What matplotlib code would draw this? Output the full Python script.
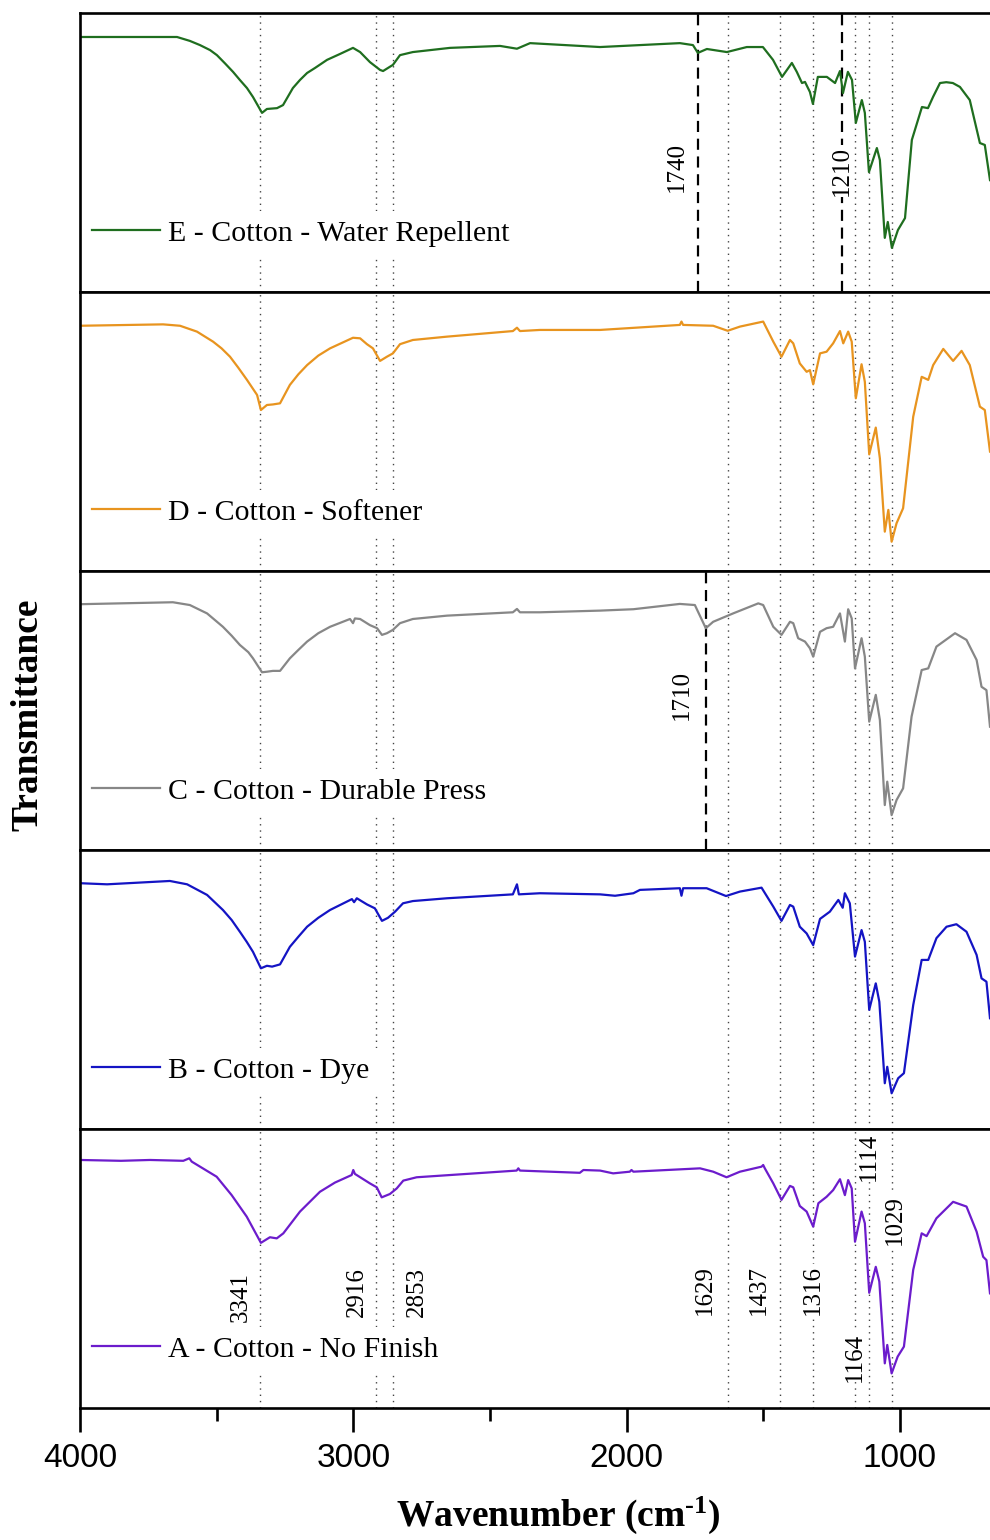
import numpy as np
import matplotlib
matplotlib.use("Agg")
import matplotlib.pyplot as plt
from matplotlib.ticker import MultipleLocator

plt.rcParams['font.family'] = ['Liberation Serif', 'DejaVu Serif']
plt.rcParams['mathtext.fontset'] = 'custom'
plt.rcParams['mathtext.rm'] = 'Liberation Serif:bold'
plt.rcParams['mathtext.it'] = 'Liberation Serif:bold'
plt.rcParams['mathtext.bf'] = 'Liberation Serif:bold'

# ---- spectra (wavenumber cm-1, relative transmittance in panel units)
wn_E = [4000, 3645, 3598, 3561, 3524, 3499, 3469, 3440, 3415, 3389, 3367, 3334, 3316, 3279, 3257, 3221, 3195,
        3169, 3140, 3096, 3049, 3001, 2975, 2939, 2902, 2891, 2855, 2829, 2782, 2646, 2463, 2401, 2353, 2097,
        1805, 1757, 1739, 1706, 1633, 1560, 1501, 1464, 1431, 1395, 1377, 1358, 1347, 1329, 1318, 1300, 1267,
        1237, 1219, 1208, 1190, 1175, 1161, 1139, 1128, 1113, 1084, 1073, 1055, 1044, 1029, 1007, 981, 956,
        919, 897, 878, 853, 830, 806, 780, 744, 707, 689, 670]
tr_E = [0.914, 0.914, 0.900, 0.885, 0.867, 0.849, 0.819, 0.789, 0.760, 0.731, 0.699, 0.642, 0.656, 0.659, 0.670,
        0.731, 0.760, 0.785, 0.803, 0.832, 0.853, 0.875, 0.860, 0.824, 0.796, 0.792, 0.814, 0.849, 0.860, 0.875,
        0.882, 0.872, 0.892, 0.878, 0.892, 0.885, 0.857, 0.871, 0.860, 0.878, 0.878, 0.832, 0.771, 0.821, 0.789,
        0.749, 0.753, 0.717, 0.674, 0.771, 0.771, 0.749, 0.792, 0.713, 0.789, 0.760, 0.606, 0.688, 0.642, 0.430,
        0.516, 0.473, 0.194, 0.251, 0.158, 0.222, 0.265, 0.545, 0.663, 0.659, 0.700, 0.749, 0.752, 0.749, 0.735,
        0.688, 0.534, 0.527, 0.401]

wn_D = [4000, 3696, 3634, 3572, 3513, 3482, 3451, 3421, 3389, 3352, 3338, 3316, 3294, 3268, 3232, 3201, 3169,
        3128, 3085, 3001, 2975, 2950, 2928, 2902, 2877, 2855, 2829, 2782, 2657, 2416, 2401, 2390, 2317, 2097,
        1805, 1799, 1793, 1683, 1630, 1585, 1500, 1463, 1433, 1402, 1390, 1366, 1341, 1329, 1317, 1292, 1268,
        1244, 1219, 1207, 1189, 1176, 1161, 1140, 1128, 1112, 1088, 1073, 1055, 1042, 1030, 1012, 988, 951,
        920, 896, 878, 841, 805, 774, 744, 707, 689, 670]
tr_D = [0.879, 0.884, 0.879, 0.858, 0.822, 0.798, 0.768, 0.729, 0.685, 0.631, 0.577, 0.595, 0.597, 0.601, 0.667,
        0.705, 0.738, 0.772, 0.798, 0.836, 0.834, 0.813, 0.798, 0.753, 0.768, 0.780, 0.813, 0.828, 0.840, 0.860,
        0.872, 0.860, 0.864, 0.864, 0.882, 0.894, 0.882, 0.879, 0.861, 0.876, 0.894, 0.822, 0.768, 0.828, 0.816,
        0.744, 0.714, 0.720, 0.669, 0.780, 0.786, 0.816, 0.860, 0.816, 0.858, 0.822, 0.619, 0.741, 0.678, 0.418,
        0.514, 0.404, 0.141, 0.219, 0.105, 0.171, 0.225, 0.553, 0.696, 0.685, 0.738, 0.796, 0.753, 0.789, 0.738,
        0.589, 0.577, 0.428]

wn_C = [4000, 3660, 3598, 3535, 3477, 3445, 3415, 3384, 3367, 3334, 3316, 3294, 3268, 3232, 3201, 3169, 3128,
        3085, 3012, 3001, 2994, 2975, 2939, 2913, 2895, 2877, 2855, 2829, 2782, 2657, 2416, 2401, 2390, 2317,
        2097, 1975, 1805, 1750, 1710, 1683, 1610, 1518, 1500, 1463, 1433, 1402, 1390, 1372, 1347, 1329, 1317,
        1292, 1268, 1244, 1219, 1201, 1189, 1176, 1164, 1140, 1128, 1112, 1088, 1073, 1055, 1046, 1030, 1012,
        988, 957, 920, 896, 866, 798, 756, 719, 701, 683, 670]
tr_C = [0.881, 0.888, 0.878, 0.848, 0.800, 0.768, 0.735, 0.709, 0.687, 0.637, 0.639, 0.642, 0.642, 0.687, 0.717,
        0.747, 0.777, 0.800, 0.828, 0.813, 0.830, 0.828, 0.806, 0.795, 0.771, 0.777, 0.789, 0.813, 0.828, 0.840,
        0.852, 0.864, 0.852, 0.852, 0.858, 0.863, 0.882, 0.878, 0.795, 0.818, 0.848, 0.884, 0.878, 0.800, 0.771,
        0.818, 0.813, 0.759, 0.747, 0.723, 0.693, 0.782, 0.795, 0.800, 0.848, 0.747, 0.863, 0.830, 0.651, 0.759,
        0.693, 0.460, 0.556, 0.466, 0.161, 0.245, 0.125, 0.179, 0.221, 0.478, 0.645, 0.651, 0.729, 0.777, 0.753,
        0.681, 0.585, 0.573, 0.442]

wn_B = [4000, 3901, 3671, 3608, 3535, 3477, 3445, 3415, 3390, 3367, 3338, 3316, 3297, 3268, 3232, 3201, 3169,
        3128, 3085, 3005, 2997, 2987, 2950, 2921, 2895, 2873, 2847, 2818, 2782, 2657, 2416, 2401, 2394, 2317,
        2097, 2042, 1975, 1951, 1805, 1799, 1793, 1707, 1636, 1585, 1506, 1463, 1433, 1402, 1390, 1366, 1341,
        1317, 1292, 1256, 1225, 1209, 1201, 1183, 1164, 1140, 1128, 1112, 1088, 1075, 1055, 1046, 1030, 1006,
        985, 951, 920, 896, 866, 829, 793, 756, 719, 701, 683, 670]
tr_B = [0.881, 0.877, 0.889, 0.877, 0.839, 0.785, 0.749, 0.707, 0.671, 0.635, 0.576, 0.585, 0.582, 0.590, 0.653,
        0.689, 0.725, 0.757, 0.785, 0.824, 0.813, 0.827, 0.805, 0.791, 0.746, 0.757, 0.779, 0.809, 0.817, 0.827,
        0.841, 0.877, 0.841, 0.845, 0.841, 0.836, 0.845, 0.857, 0.863, 0.836, 0.863, 0.863, 0.835, 0.851, 0.865,
        0.797, 0.746, 0.803, 0.797, 0.725, 0.701, 0.659, 0.753, 0.779, 0.821, 0.793, 0.845, 0.809, 0.618, 0.713,
        0.671, 0.427, 0.522, 0.456, 0.164, 0.223, 0.128, 0.182, 0.200, 0.444, 0.606, 0.606, 0.684, 0.725, 0.734,
        0.707, 0.624, 0.540, 0.528, 0.397]

wn_A = [4000, 3850, 3744, 3622, 3600, 3591, 3500, 3445, 3390, 3338, 3305, 3280, 3256, 3195, 3122, 3067, 3006,
        3000, 2994, 2939, 2914, 2896, 2866, 2841, 2817, 2768, 2646, 2402, 2396, 2390, 2171, 2158, 2097, 2049,
        1988, 1982, 1975, 1731, 1683, 1634, 1585, 1506, 1500, 1494, 1463, 1433, 1402, 1390, 1366, 1341, 1317,
        1298, 1268, 1244, 1219, 1201, 1189, 1176, 1164, 1140, 1128, 1112, 1088, 1075, 1055, 1046, 1030, 1008,
        985, 951, 920, 902, 866, 805, 756, 719, 695, 683, 670]
tr_A = [0.889, 0.886, 0.889, 0.886, 0.895, 0.883, 0.829, 0.763, 0.686, 0.592, 0.612, 0.608, 0.626, 0.704, 0.775,
        0.808, 0.835, 0.853, 0.839, 0.805, 0.791, 0.755, 0.767, 0.787, 0.815, 0.827, 0.835, 0.851, 0.859, 0.851,
        0.843, 0.853, 0.851, 0.841, 0.847, 0.853, 0.847, 0.859, 0.847, 0.827, 0.847, 0.865, 0.871, 0.859, 0.805,
        0.746, 0.796, 0.791, 0.724, 0.704, 0.650, 0.734, 0.757, 0.781, 0.820, 0.763, 0.817, 0.787, 0.596, 0.704,
        0.662, 0.413, 0.506, 0.453, 0.160, 0.226, 0.124, 0.184, 0.220, 0.495, 0.626, 0.616, 0.680, 0.739, 0.722,
        0.632, 0.542, 0.530, 0.411]

labels = ["E - Cotton - Water Repellent", "D - Cotton - Softener", "C - Cotton - Durable Press",
          "B - Cotton - Dye", "A - Cotton - No Finish"]
colors = ["#1f6e1f", "#e8941f", "#878787", "#1414c4", "#6c1ccc"]
spectra = [(wn_E, tr_E), (wn_D, tr_D), (wn_C, tr_C), (wn_B, tr_B), (wn_A, tr_A)]

# common bands (dotted) and finish-specific bands (dashed)
bands = [3341, 2916, 2853, 1629, 1437, 1316, 1164, 1114, 1029]
band_lbl_x = [3411, 2986, 2767, 1713, 1516, 1318, 1164, 1113, 1018]
band_lbl_y = [0.398, 0.416, 0.416, 0.423, 0.423, 0.423, 0.183, 0.900, 0.674]
special = {0: [(1740, 1816, 0.448), (1210, 1212, 0.434)], 2: [(1710, 1797, 0.556)]}

fig, axes = plt.subplots(5, 1, figsize=(9.9, 15.4), dpi=100, sharex=True)
fig.subplots_adjust(left=80/990, right=1.0, top=1-13/1540, bottom=1-1408/1540, hspace=0)

for i, ax in enumerate(axes):
    wn, tr = spectra[i]
    for b in bands:
        ax.axvline(b, color='#444444', lw=1.0, ls=(0, (1, 3.5)), zorder=1)
    for (b, tx, ty) in special.get(i, []):
        ax.axvline(b, color='black', lw=1.6, ls=(0, (5, 3)), zorder=1)
        ax.text(tx, ty, str(b), rotation=90, ha='center', va='center', fontsize=18,
                bbox=dict(facecolor='white', edgecolor='none', pad=0.5), zorder=3)
    ax.plot(wn, tr, color=colors[i], lw=1.6, label=labels[i], zorder=2)
    ax.set_ylim(0, 1)
    ax.set_yticks([])
    ax.spines['right'].set_visible(False)
    for s in ['left', 'top', 'bottom']:
        ax.spines[s].set_linewidth(1.9)
    ax.legend(loc='center left', bbox_to_anchor=(0.003, 0.21), frameon=True, fancybox=False,
              edgecolor='none', facecolor='white', framealpha=1, borderpad=0.3, borderaxespad=0,
              handlelength=2.3, handletextpad=0.25, prop={'family': 'Liberation Serif', 'size': 21.5})
    if i < 4:
        ax.tick_params(axis='x', which='both', bottom=False, labelbottom=False)

ax = axes[-1]
for b, tx, ty in zip(bands, band_lbl_x, band_lbl_y):
    ax.text(tx, ty, str(b), rotation=90, ha='center', va='center', fontsize=18,
            bbox=dict(facecolor='white', edgecolor='none', pad=0.5), zorder=3)

ax.set_xlim(4000, 670)
ax.xaxis.set_major_locator(MultipleLocator(1000))
ax.xaxis.set_minor_locator(MultipleLocator(500))
ax.tick_params(axis='x', which='major', direction='out', length=17, width=1.9, pad=8,
               labelsize=24, labelfontfamily='Liberation Sans')
ax.tick_params(axis='x', which='minor', direction='out', length=9, width=1.9)

fig.text(558/990, 1-1515/1540, "Wavenumber (cm$^{\\text{-1}}$)", ha='center', va='center',
         fontsize=27, fontweight='bold')
fig.text(28/990, 1-715/1540, "Transmittance", rotation=90, ha='center', va='center',
         fontsize=27, fontweight='bold')

fig.savefig("out.png", dpi=100)
